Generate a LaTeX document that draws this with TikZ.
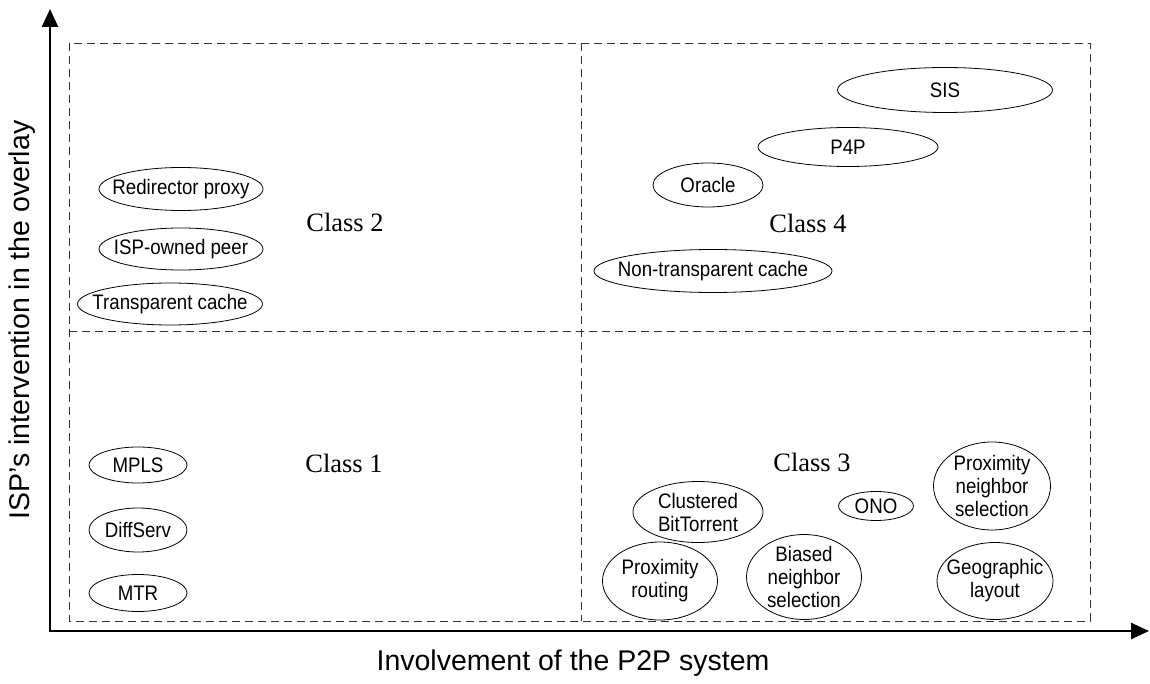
\documentclass[tikz,border=0pt]{standalone}
\usepackage{fontspec}
\usetikzlibrary{arrows.meta,shapes.geometric}
\newfontfamily\elfont[FakeStretch=0.89]{Liberation Sans}
\newfontfamily\axfont{Liberation Sans}
\newfontfamily\clfont{Liberation Serif}
\tikzset{
  el/.style 2 args={ellipse, draw=black, line width=0.8pt, inner sep=0pt,
    minimum width=#1pt, minimum height=#2pt},
  eltext/.style={font=\elfont\fontsize{21}{23}\selectfont, align=center, inner sep=0pt},
  classlbl/.style={font=\clfont\fontsize{26.5}{30}\selectfont, inner sep=0pt},
  axlbl/.style={font=\axfont\fontsize{28.5}{32}\selectfont, inner sep=0pt},
  quad/.style={draw=black!80, line width=0.8pt, dash pattern=on 8pt off 5pt},
  axis/.style={line width=2.4pt, line join=miter, {Triangle[length=18pt,width=16pt]}-{Triangle[length=18pt,width=16pt]}},
}
\begin{document}
\begin{tikzpicture}[x=1pt,y=-1pt]
\useasboundingbox (0,0) rectangle (1150,684);
% quadrants
\draw[quad] (69,43) rectangle (1090,621);
\draw[quad] (581,43) -- (581,621);
\draw[quad] (69,331) -- (1090,331);
% axes
\coordinate (ytip) at (50,9);
\coordinate (corner) at (50,631);
\coordinate (xtip) at (1149,631);
\draw[axis] (ytip) -- (corner) -- (xtip);
\node[axlbl, rotate=90] (ylab) at (22,320) {ISP’s intervention in the overlay};
\node[axlbl] (xlab) at (573,663) {Involvement of the P2P system};
% class labels
\node[classlbl] (c1) at (344,463) {Class 1};
\node[classlbl] (c2) at (345,222) {Class 2};
\node[classlbl] (c3) at (812,462) {Class 3};
\node[classlbl] (c4) at (808,223) {Class 4};
% class 2
\node[el={164}{43}] (redir) at (181,189) {};
\node[eltext] at (redir.center) {Redirector proxy};
\node[el={164}{42}] (ispown) at (181,249) {};
\node[eltext] at (ispown.center) {ISP-owned peer};
\node[el={185}{42}] (transp) at (170,304) {};
\node[eltext] at (transp.center) {Transparent cache};
% class 1
\node[el={98}{36}] (mpls) at (138,465) {};
\node[eltext] at (mpls.center) {MPLS};
\node[el={98}{44}] (diffserv) at (138,530) {};
\node[eltext] at (diffserv.center) {DiffServ};
\node[el={98}{37}] (mtr) at (138,593) {};
\node[eltext] at (mtr.center) {MTR};
% class 4
\node[el={215}{45}] (sis) at (945,90) {};
\node[eltext] at (sis.center) {SIS};
\node[el={180}{39}] (p4p) at (848,147) {};
\node[eltext] at (p4p.center) {P4P};
\node[el={110}{44}] (oracle) at (708,185) {};
\node[eltext] at (oracle.center) {Oracle};
\node[el={238}{43}] (nontransp) at (713,271) {};
\node[eltext] at (nontransp.center) {Non-transparent cache};
% class 3
\node[el={130}{61}] (clustered) at (698,512) {};
\node[eltext] at (clustered.center) {Clustered\\BitTorrent};
\node[el={75}{29}] (ono) at (876,506) {};
\node[eltext] at (ono.center) {ONO};
\node[el={117}{88}] (pns) at (992,486) {};
\node[eltext] at (pns.center) {Proximity\\neighbor\\selection};
\node[el={115}{78}] (proxrout) at (660,581) {};
\node[eltext] at (proxrout.center) {Proximity\\routing};
\node[el={115}{85}] (biased) at (804,577) {};
\node[eltext] at (biased.center) {Biased\\neighbor\\selection};
\node[el={116}{77}] (geo) at (995,581) {};
\node[eltext] at (geo.center) {Geographic\\layout};
\end{tikzpicture}
\end{document}
